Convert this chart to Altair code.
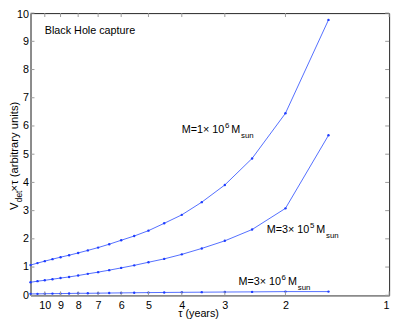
import altair as alt
import pandas as pd

# ---- data ----
tau = [11, 10.5, 10, 9.5, 9, 8.5, 8, 7.5, 7, 6.5, 6, 5.5, 5, 4.5, 4, 3.5, 3, 2.5, 2, 1.5]
v_1e6 = [1.07, 1.14, 1.21, 1.28, 1.35, 1.42, 1.50, 1.59, 1.69, 1.81, 1.95, 2.10, 2.29, 2.55, 2.85, 3.30, 3.91, 4.85, 6.45, 9.76]
v_3e5 = [0.46, 0.50, 0.53, 0.57, 0.61, 0.65, 0.70, 0.76, 0.82, 0.89, 0.97, 1.06, 1.17, 1.29, 1.45, 1.66, 1.93, 2.33, 3.08, 5.67]
v_3e6 = [0.05, 0.05, 0.055, 0.06, 0.06, 0.065, 0.07, 0.07, 0.075, 0.08, 0.085, 0.09, 0.095, 0.10, 0.105, 0.11, 0.115, 0.12, 0.13, 0.13]
series = ["1e6", "3e5", "3e6"]

x_ticks = [1, 2, 3, 4, 5, 6, 7, 8, 9, 10]
y_ticks = [0, 1, 2, 3, 4, 5, 6, 7, 8, 9, 10]

# annotation anchors (tau, value) and texts
ann_tau = [4.0, 2.266, 2.738]
ann_v = [5.74, 2.20, 0.37]
ann_main = ["M=1× 10", "M=3× 10", "M=3× 10"]
ann_exp = ["6", "5", "6"]

W, H = 366, 288
FONT = "Liberation Sans"
BLUE = "#3d5cff"

df = pd.DataFrame({
    "tau": tau * 3,
    "v": v_1e6 + v_3e5 + v_3e6,
    "s": [series[0]] * len(tau) + [series[1]] * len(tau) + [series[2]] * len(tau),
})
ann = pd.DataFrame({"tau": ann_tau, "v": ann_v, "main": ann_main, "exp": ann_exp,
                    "m": ["M"] * 3, "sub": ["sun"] * 3})
xt = pd.DataFrame({"tau": x_ticks})
yt = pd.DataFrame({"v": y_ticks})
title_df = pd.DataFrame({"tau": [10], "v": [9.25], "t": ["Black Hole capture"]})
one = pd.DataFrame({"a": [0]})

xscale = alt.Scale(type="log", domain=[1, 11], reverse=True, nice=False)
yscale = alt.Scale(domain=[0, 10], nice=False)

xaxis = alt.Axis(values=x_ticks, format="d", title="τ (years)", ticks=False,
                 labelPadding=4, labelFontSize=11, labelFont=FONT, labelColor="#000",
                 labelOverlap=False,
                 titleFont=FONT, titleFontSize=11, titleFontWeight="normal",
                 titleColor="#000", titlePadding=-2, titleX=171,
                 domainColor="#8a8a8a", domainWidth=1.6, grid=False)
yaxis = alt.Axis(values=y_ticks, format="d", title=None, ticks=False, labelPadding=2,
                 labelFontSize=11, labelFont=FONT, labelColor="#000",
                 labelOverlap=False,
                 labelOffset=alt.condition("datum.value == 10", alt.value(2), alt.value(0)),
                 domainColor="#8a8a8a", domainWidth=1.6, grid=False)

X = alt.X("tau:Q", scale=xscale, axis=xaxis)
Y = alt.Y("v:Q", scale=yscale, axis=yaxis)

lines = alt.Chart(df).mark_line(
    color=BLUE, strokeWidth=0.9,
    point=alt.OverlayMarkDef(filled=True, size=6, color="#1f3dff"),
).encode(x=X, y=Y, detail="s:N")

tick_color = "#9a9a9a"
xt_bottom = alt.Chart(xt).mark_rule(color=tick_color, strokeWidth=1).encode(
    x=X, y=alt.value(H), y2=alt.value(H - 4))
xt_top = alt.Chart(xt).mark_rule(color=tick_color, strokeWidth=1).encode(
    x=X, y=alt.value(0), y2=alt.value(4))
yt_left = alt.Chart(yt).mark_rule(color=tick_color, strokeWidth=1).encode(
    y=Y, x=alt.value(0), x2=alt.value(4))
yt_right = alt.Chart(yt).mark_rule(color=tick_color, strokeWidth=1).encode(
    y=Y, x=alt.value(W - 4), x2=alt.value(W))

def txt(data, field, dx=0, dy=0, size=11):
    return alt.Chart(data).mark_text(
        align="left", baseline="alphabetic", font=FONT, fontSize=size,
        color="#000", dx=dx, dy=dy,
    ).encode(x=X, y=Y, text=f"{field}:N")

a_main = txt(ann, "main")
a_exp = txt(ann, "exp", dx=44, dy=-5, size=8)
a_m = txt(ann, "m", dx=50.5)
a_sub = txt(ann, "sub", dx=60.5, dy=5, size=8)
bh = txt(title_df, "t")

def ytitle(text, dx=0, dy=0, size=11.5):
    return alt.Chart(one).mark_text(
        align="left", baseline="alphabetic", angle=270, font=FONT, fontSize=size,
        color="#000", dx=dx, dy=dy, text=text,
    ).encode(x=alt.value(-13), y=alt.value(201))

yt1 = ytitle("V")
yt2 = ytitle("det", dx=8, dy=4.5, size=8.5)
yt3 = ytitle("×τ (arbitrary units)", dx=19)

chart = alt.layer(
    lines, xt_bottom, xt_top, yt_left, yt_right,
    a_main, a_exp, a_m, a_sub, bh, yt1, yt2, yt3,
).properties(
    width=W, height=H,
    autosize=alt.AutoSizeParams(type="none"),
    padding={"left": 23, "top": 2, "right": 6, "bottom": 21},
).configure_view(stroke="#222", strokeWidth=1)

chart.save("out.html", embed_options={"renderer": "svg", "actions": False})
